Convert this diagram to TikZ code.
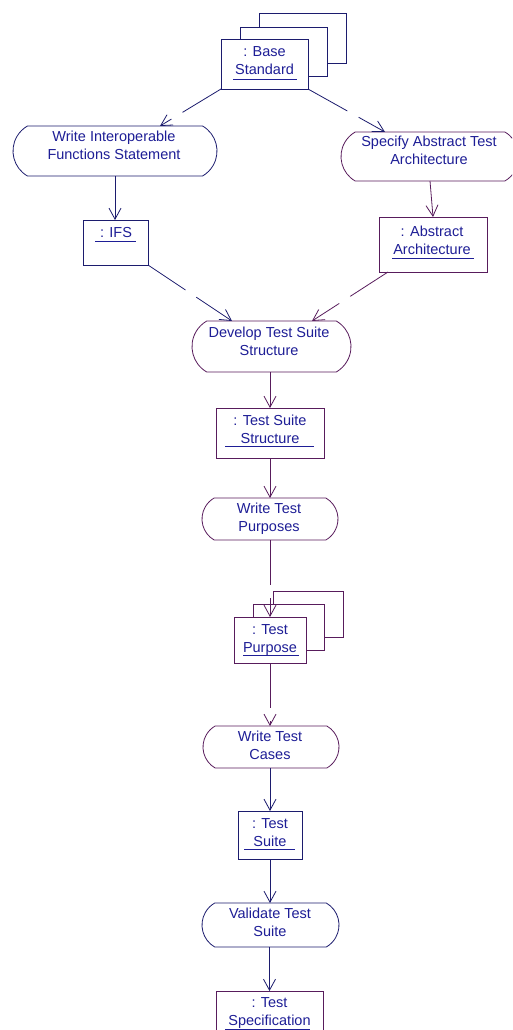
\documentclass[tikz,border=0pt]{standalone}
\usepackage{fontspec}
\setmainfont{Liberation Sans}
\usetikzlibrary{arrows.meta,shapes.misc}

\definecolor{navy}{RGB}{28,28,110}
\definecolor{plum}{RGB}{88,28,92}
\definecolor{inkblue}{RGB}{30,30,150}

\begin{document}
\begin{tikzpicture}[x=1pt,y=-1pt,
  every node/.style={inner sep=0pt, outer sep=0pt},
  actbox/.style={rounded rectangle, rounded rectangle arc length=120,
    draw, line width=0.8pt, fill=white},
  objbox/.style={rectangle, draw, line width=0.8pt, fill=white},
  lbl/.style={font=\fontsize{14.5}{18}\selectfont, text=inkblue, align=center},
  uline/.style={draw=inkblue, line width=0.8pt},
  flow/.style={line width=0.8pt, -{Straight Barb[length=11pt,width=12pt]}},
  objflow/.style={flow, dash pattern=on 45pt off 13pt}]

\useasboundingbox (0,0) rectangle (512,1030);
\fill[white] (0,0) rectangle (512,1030);
\clip (0,0) rectangle (512,1030);

% --- Base Standard (stacked object) ---
\node[objbox, draw=navy, minimum width=87pt, minimum height=50pt] (bs3) at (302.5,38) {};
\node[objbox, draw=navy, minimum width=87pt, minimum height=49pt] (bs2) at (283.5,51.5) {};
\node[objbox, draw=navy, minimum width=87pt, minimum height=50pt] (bs) at (264.5,64) {};
\node[lbl] (bs-t) at (264.5,61) {: Base\\Standard};
\draw[uline] ([shift={(12,40)}]bs.north west) -- ++(64,0);

% --- activities, first row ---
\node[actbox, draw=navy, minimum width=204pt, minimum height=50pt] (wifs) at (115,151) {};
\node[lbl] (wifs-t) at (114,145) {Write Interoperable\\Functions Statement};

\node[actbox, draw=plum, minimum width=178pt, minimum height=49pt] (sats) at (430,156.5) {};
\node[lbl] (sats-t) at (429,150.5) {Specify Abstract Test\\Architecture};

% --- IFS and Abstract Architecture ---
\node[objbox, draw=navy, minimum width=65pt, minimum height=45pt] (ifs) at (115.5,242.5) {};
\node[lbl] (ifs-t) at (116,233) {: IFS};
\draw[uline] ([shift={(12,21)}]ifs.north west) -- ++(41,0);

\node[objbox, draw=plum, minimum width=108pt, minimum height=55pt] (aa) at (433,244.5) {};
\node[lbl] (aa-t) at (432,240.5) {: Abstract\\Architecture};
\draw[uline] ([shift={(13,41)}]aa.north west) -- ++(82,0);

% --- Develop Test Suite Structure ---
\node[actbox, draw=plum, minimum width=159pt, minimum height=51pt] (dtss) at (271.5,346.5) {};
\node[lbl] (dtss-t) at (269,341) {Develop Test Suite\\Structure};

\node[objbox, draw=plum, minimum width=108pt, minimum height=50pt] (tss) at (270,433) {};
\node[lbl] (tss-t) at (270,429.5) {: Test Suite\\Structure};
\draw[uline] ([shift={(9,38)}]tss.north west) -- ++(89,0);

% --- Write Test Purposes ---
\node[actbox, draw=plum, minimum width=136pt, minimum height=42pt] (wtp) at (270,519) {};
\node[lbl] (wtp-t) at (269,518.5) {Write Test\\Purposes};

% --- Test Purpose (stacked object) ---
\node[objbox, draw=plum, minimum width=70pt, minimum height=46pt] (tp3) at (308,614) {};
\node[objbox, draw=plum, minimum width=71pt, minimum height=46pt] (tp2) at (288.5,627) {};
\node[objbox, draw=plum, minimum width=72pt, minimum height=46pt] (tp) at (270,640) {};
\node[lbl] (tp-t) at (270,640.5) {: Test\\Purpose};
\draw[uline] ([shift={(9,38)}]tp.north west) -- ++(56,0);

% --- Write Test Cases ---
\node[actbox, draw=plum, minimum width=136pt, minimum height=42pt] (wtc) at (271,747) {};
\node[lbl] (wtc-t) at (270,745.5) {Write Test\\Cases};

\node[objbox, draw=navy, minimum width=64pt, minimum height=48pt] (ts) at (270,835) {};
\node[lbl] (ts-t) at (270,832.5) {: Test\\Suite};
\draw[uline] ([shift={(6,38)}]ts.north west) -- ++(51,0);

% --- Validate Test Suite ---
\node[actbox, draw=navy, minimum width=137pt, minimum height=44pt] (vts) at (270.5,925) {};
\node[lbl] (vts-t) at (270,922) {Validate Test\\Suite};

\node[objbox, draw=plum, minimum width=107pt, minimum height=60pt] (tspec) at (269.5,1021) {};
\node[lbl] (tspec-t) at (269.5,1013.5) {: Test\\Specification};
\draw[uline] ([shift={(9,38)}]tspec.north west) -- ++(85,0);

% --- flows ---
\draw[objflow, navy] (bs.south west) -- ([xshift=45pt]wifs.north);
\draw[objflow, navy] (bs.south east) -- ([xshift=-45pt]sats.north);
\draw[flow, navy] (wifs.south) -- (ifs.north -| wifs.south);
\draw[flow, plum] (sats.south) -- (aa.north);
\draw[objflow, navy] (ifs.south east) -- ([xshift=-39.5pt]dtss.north);
\draw[objflow, plum] ([xshift=9pt]aa.south west) -- ([xshift=40.5pt]dtss.north);
\draw[flow, plum] (dtss.south -| tss.north) -- (tss.north);
\draw[flow, plum] (tss.south) -- (wtp.north -| tss.south);
\draw[objflow, plum] (wtp.south -| tp.north) -- (tp.north);
\draw[objflow, plum] (tp.south) -- (wtc.north -| tp.south);
\draw[flow, navy] (wtc.south -| ts.north) -- (ts.north);
\draw[flow, navy] (ts.south) -- (vts.north -| ts.south);
\draw[flow, navy] (vts.south -| tspec.north) -- (tspec.north);
\end{tikzpicture}
\end{document}
